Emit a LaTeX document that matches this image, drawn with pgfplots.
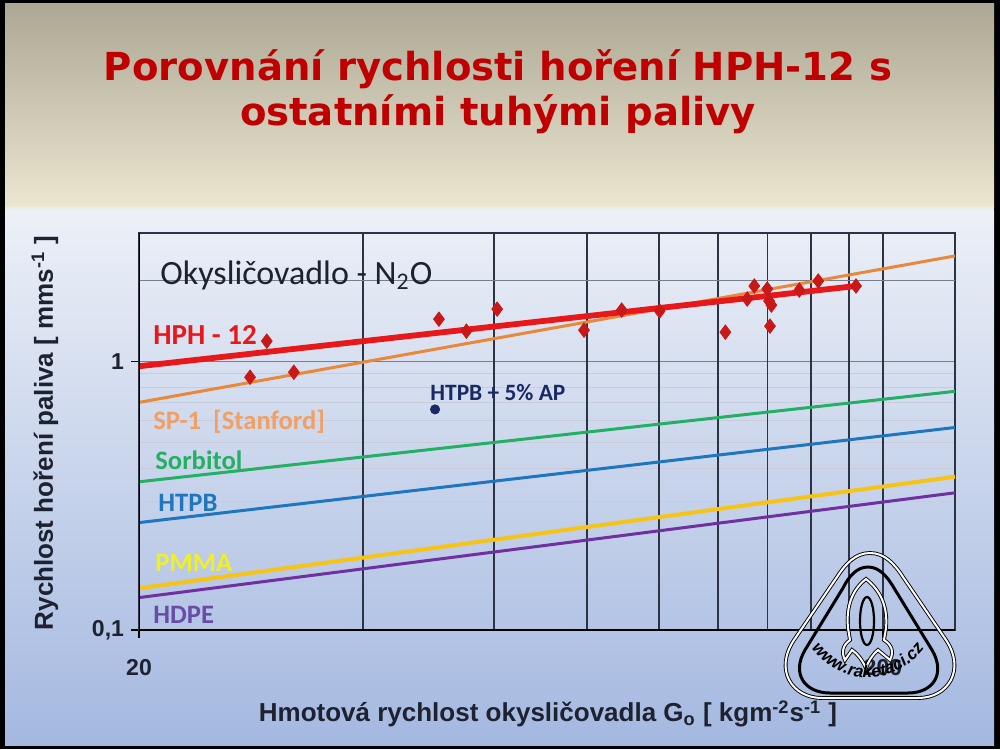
\documentclass[border=0pt]{standalone}
\usepackage{pgfplots}
\pgfplotsset{compat=1.18}
\usetikzlibrary{decorations.text}
\usepackage{fontspec}
\setmainfont{Liberation Sans}
\newfontfamily\carlito{Carlito}
\newfontfamily\dejavu{DejaVu Sans}
\definecolor{titlered}{RGB}{192,0,0}
\definecolor{topA}{RGB}{172,168,148}
\definecolor{topB}{RGB}{234,230,208}
\definecolor{botA}{RGB}{236,240,247}
\definecolor{botB}{RGB}{164,184,224}
\definecolor{gridv}{RGB}{44,52,68}
\definecolor{gridmaj}{RGB}{120,126,140}
\definecolor{gridmin}{RGB}{200,204,218}
\definecolor{hphred}{RGB}{232,24,26}
\definecolor{sporange}{RGB}{232,136,58}
\definecolor{splabel}{RGB}{240,160,100}
\definecolor{sorbgreen}{RGB}{36,176,100}
\definecolor{htpbblue}{RGB}{30,118,190}
\definecolor{pmmayellow}{RGB}{246,196,20}
\definecolor{pmmalabel}{RGB}{240,240,40}
\definecolor{hdpepurple}{RGB}{112,48,160}
\definecolor{hdpelabel}{RGB}{104,76,168}
\definecolor{diamred}{RGB}{200,24,24}
\definecolor{navy}{RGB}{26,40,100}
\definecolor{darktext}{RGB}{30,34,48}
\begin{document}
\begin{tikzpicture}
\path[use as bounding box] (0,0) rectangle (500pt,-374.5pt);
\begin{scope}[x=0.5pt,y=-0.5pt]
\fill[black] (0,0) rectangle (1000,749);
\shade[top color=topA, bottom color=topB] (5,4) rectangle (994,207);
\fill[white!85!gray] (5,207) rectangle (994,210);
\shade[top color=botA, bottom color=botB] (5,210) rectangle (994,745);
\node[anchor=base, inner sep=0, text=titlered, font=\dejavu\bfseries\fontsize{19.3}{22}\selectfont] at (498,81) {Porovnání rychlosti hoření HPH-12 s};
\node[anchor=base, inner sep=0, text=titlered, font=\dejavu\bfseries\fontsize{19.3}{22}\selectfont] at (498,126) {ostatními tuhými palivy};
\end{scope}

\begin{axis}[
  at={(69.5pt,-315pt)}, anchor=south west,
  scale only axis, width=408pt, height=198.5pt,
  xmode=log, ymode=log,
  xmin=20, xmax=250, ymin=0.1, ymax=3,
  axis line style={draw=gridv, line width=0.6pt},
  xtick={20,200}, xticklabels={20,200},
  ytick={0.1,1}, yticklabels={{0,1},1},
  minor xtick={},
  minor ytick={0.2,0.3,0.4,0.5,0.6,0.7,0.8,0.9},
  ymajorgrids, yminorgrids,
  major grid style={draw=gridmaj, line width=0.6pt},
  minor grid style={draw=gridmin, line width=0.4pt},
  extra x ticks={40,60,80,100,120,140,160,180,200},
  extra x tick labels={},
  extra x tick style={xmajorgrids=true, major grid style={draw=gridv, line width=0.7pt}, major tick length=0pt},
  extra y ticks={2}, extra y tick labels={},
  extra y tick style={ymajorgrids=true, major grid style={draw=gridmaj, line width=0.6pt}, major tick length=0pt},
  tick pos=left, tick align=outside,
  major tick length=4pt, minor tick length=0pt,
  tick style={black, line width=0.7pt},
  xticklabel style={font=\bfseries\fontsize{11.5}{12}\selectfont, anchor=north, yshift=-7pt, text=darktext},
  yticklabel style={font=\bfseries\fontsize{11.5}{12}\selectfont, anchor=east, text=darktext},
]
\addplot[color=sporange, line width=1.5pt] coordinates {(20,0.703) (250,2.465)};
\addplot[color=sorbgreen, line width=1.5pt] coordinates {(20,0.356) (250,0.773)};
\addplot[color=htpbblue, line width=1.5pt] coordinates {(20,0.251) (250,0.567)};
\addplot[color=pmmayellow, line width=2pt] coordinates {(20,0.143) (250,0.372)};
\addplot[color=hdpepurple, line width=1.5pt] coordinates {(20,0.132) (250,0.324)};
\addplot[color=hphred, line width=2.9pt] coordinates {(20,0.958) (184,1.905)};
\addplot[only marks, mark=diamond*, mark size=3.6pt, color=diamred] coordinates {
 (28.2,0.872) (29.7,1.188) (32.3,0.910) (50.6,1.434) (55.1,1.294) (60.6,1.563)
 (79.3,1.305) (89.1,1.55) (100.2,1.537) (122.8,1.283) (131.4,1.704) (134.3,1.905)
 (139.8,1.857) (140.6,1.675) (141.6,1.618) (141.0,1.351) (154.4,1.84) (163.7,1.989) (184,1.905)};
\addplot[only marks, mark=*, mark size=2.3pt, color=navy] coordinates {(50,0.662)};
\draw[black, line width=1.3pt] (rel axis cs:0,1) -- (rel axis cs:0,0) -- (rel axis cs:1,0);
\end{axis}

\begin{scope}[x=0.5pt,y=-0.5pt]
\node[anchor=west, inner sep=0, text=darktext, font=\carlito\fontsize{17}{18}\selectfont] at (160,275) {Okysličovadlo - N\textsubscript{2}O};
\node[anchor=west, inner sep=0, text=hphred, font=\carlito\bfseries\fontsize{14.5}{16}\selectfont] at (153,335) {HPH - 12};
\node[anchor=west, inner sep=0, text=splabel, font=\carlito\bfseries\fontsize{13.3}{15}\selectfont] at (153,422) {SP-1\ \ [Stanford]};
\node[anchor=west, inner sep=0, text=sorbgreen, font=\carlito\bfseries\fontsize{13.3}{15}\selectfont] at (155,460) {Sorbitol};
\node[anchor=west, inner sep=0, text=htpbblue, font=\carlito\bfseries\fontsize{13.3}{15}\selectfont] at (158,503) {HTPB};
\node[anchor=west, inner sep=0, text=pmmalabel, font=\carlito\bfseries\fontsize{13.3}{15}\selectfont] at (155,563) {PMMA};
\node[anchor=west, inner sep=0, text=hdpelabel, font=\carlito\bfseries\fontsize{13.3}{15}\selectfont] at (153,615) {HDPE};
\node[anchor=west, inner sep=0, text=navy, font=\carlito\bfseries\fontsize{11.7}{13}\selectfont] at (430,393) {HTPB + 5\% AP};
% axis titles
\node[inner sep=0, text=darktext, font=\bfseries\fontsize{13}{15}\selectfont] at (548,714) {Hmotová rychlost okysličovadla G\textsubscript{o} [ kgm\textsuperscript{-2}s\textsuperscript{-1} ]};
\node[inner sep=0, rotate=90, text=darktext, font=\bfseries\fontsize{13}{15}\selectfont] at (45,433) {Rychlost hoření paliva [ mms\textsuperscript{-1} ]};
% logo watermark
\def\outerlogo{(870,553) .. controls (884,553) and (894,563) .. (903,577) -- (946,640) .. controls (966,670) and (948,698) .. (918,698) -- (822,698) .. controls (792,698) and (774,670) .. (794,640) -- (837,577) .. controls (846,563) and (856,553) .. (870,553) -- cycle}
\draw[black, line width=1.9pt] (870,553) .. controls (884,553) and (894,563) .. (903,577) -- (946,640) .. controls (966,670) and (948,698) .. (918,698) -- (822,698) .. controls (792,698) and (774,670) .. (794,640) -- (837,577) .. controls (846,563) and (856,553) .. (870,553) -- cycle;
\draw[white, line width=1.0pt] (870,553) .. controls (884,553) and (894,563) .. (903,577) -- (946,640) .. controls (966,670) and (948,698) .. (918,698) -- (822,698) .. controls (792,698) and (774,670) .. (794,640) -- (837,577) .. controls (846,563) and (856,553) .. (870,553) -- cycle;
\draw[black, line width=1.5pt] (868,567) .. controls (879,567) and (887,576) .. (894,588) -- (932,650) .. controls (946,674) and (933,693) .. (908,693) -- (830,693) .. controls (805,693) and (791,674) .. (805,650) -- (843,588) .. controls (849,576) and (857,567) .. (868,567) -- cycle;
% rocket
\draw[black, line width=1.9pt] (866,579) .. controls (880,590) and (888,606) .. (886,628) -- (884,640) .. controls (892,645) and (894,652) .. (890,660) -- (878,650) .. controls (872,655) and (868,662) .. (866,668) .. controls (862,660) and (858,654) .. (852,650) -- (845,660) .. controls (841,652) and (843,645) .. (850,640) -- (848,628) .. controls (846,606) and (852,590) .. (866,579) -- cycle;
\draw[white, line width=1.0pt] (866,579) .. controls (880,590) and (888,606) .. (886,628) -- (884,640) .. controls (892,645) and (894,652) .. (890,660) -- (878,650) .. controls (872,655) and (868,662) .. (866,668) .. controls (862,660) and (858,654) .. (852,650) -- (845,660) .. controls (841,652) and (843,645) .. (850,640) -- (848,628) .. controls (846,606) and (852,590) .. (866,579) -- cycle;
\draw[black, line width=1.1pt] (867,621) ellipse (7 and 24);
\path[decorate, decoration={text along path, text align=center, text color=black,
  text={|\bfseries\itshape\fontsize{8.5}{9}\selectfont|www.raketaci.cz}}]
  (806,640) .. controls (835,690) and (900,690) .. (930,640);
\end{scope}
\end{tikzpicture}
\end{document}
